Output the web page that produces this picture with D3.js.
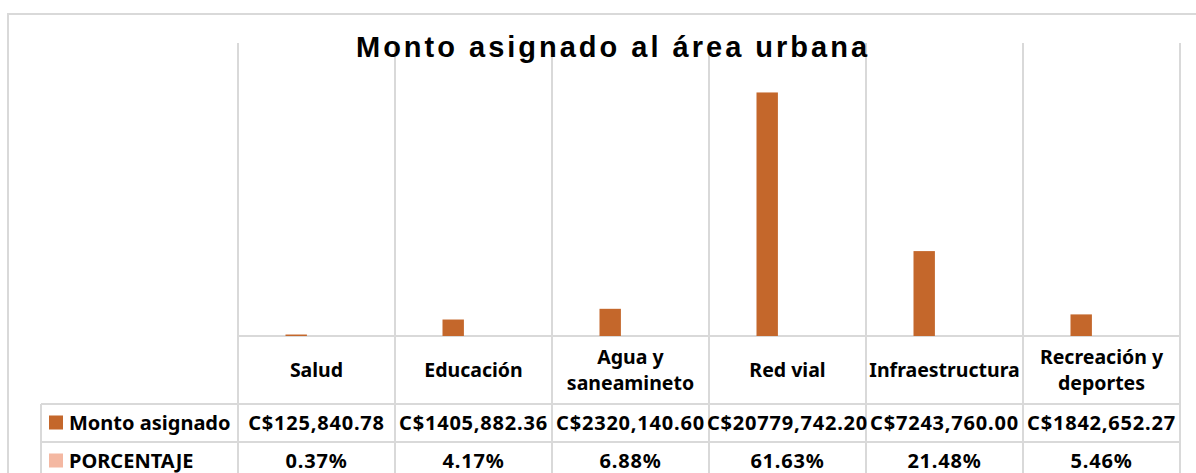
<!DOCTYPE html>
<head>
    <meta charset="utf-8">
    <title>Monto asignado al área urbana</title>
</head>
<style>
    body { margin: 0; background: #fff; }
    svg { display: block; }
    .grid { stroke: #d9d9d9; stroke-width: 2px; fill: none; }
    .cell { font-family: "Noto Sans", sans-serif; font-weight: bold; font-size: 20px; fill: #000; }
    .cat { font-size: 19.5px; }
    .num { letter-spacing: 0.8px; }
    .title { font-family: "Liberation Sans", Arial, sans-serif; font-weight: bold; font-size: 29px; letter-spacing: 3px; fill: #000; }
</style>
<body>
<script src="https://d3js.org/d3.v7.min.js"></script>
<script>
    var width = 1196,
        height = 473;

    // data
    var categories = ["Salud", "Educación", "Agua y\nsaneamineto", "Red vial", "Infraestructura", "Recreación y\ndeportes"];
    var seriesNames = ["Monto asignado", "PORCENTAJE"];
    var montoValues = [125840.78, 1405882.36, 2320140.60, 20779742.20, 7243760.00, 1842652.27];
    var montoLabels = ["C$125,840.78", "C$1405,882.36", "C$2320,140.60", "C$20779,742.20", "C$7243,760.00", "C$1842,652.27"];
    var porcentajeValues = [0.37, 4.17, 6.88, 61.63, 21.48, 5.46];
    var colors = ["#c4672b", "#f4b8a2"];

    var plotLeft = 238, plotRight = 1180, plotTop = 43, baseline = 336;
    var tableLeft = 41, rowLines = [336, 404, 442, 480];

    var svg = d3.select("body").append("svg")
        .attr("width", width)
        .attr("height", height);

    // chart border
    svg.append("rect")
        .attr("class", "grid")
        .attr("x", 8).attr("y", 14)
        .attr("width", 1210).attr("height", 500);

    var x0 = d3.scaleBand()
        .domain(categories)
        .range([plotLeft, plotRight]);
    var x1 = d3.scaleBand()
        .domain(seriesNames)
        .range([47.5, 90.3]);
    var y = d3.scaleLinear()
        .domain([0, 25000000])
        .range([baseline, plotTop]);

    // vertical grid lines / table columns
    var colEdges = categories.map(function (c) { return x0(c); }).concat([plotRight]);
    svg.selectAll("line.vcol")
        .data(colEdges)
        .enter().append("line")
        .attr("class", "grid vcol")
        .attr("x1", function (d) { return d; })
        .attr("x2", function (d) { return d; })
        .attr("y1", plotTop)
        .attr("y2", rowLines[3]);

    // table left edge
    svg.append("line")
        .attr("class", "grid")
        .attr("x1", tableLeft).attr("x2", tableLeft)
        .attr("y1", rowLines[1]).attr("y2", rowLines[3]);

    // horizontal table lines
    svg.selectAll("line.hrow")
        .data(rowLines)
        .enter().append("line")
        .attr("class", "grid hrow")
        .attr("x1", function (d, i) { return i === 0 ? plotLeft : tableLeft; })
        .attr("x2", plotRight)
        .attr("y1", function (d) { return d; })
        .attr("y2", function (d) { return d; });

    // bars
    var series = [montoValues, porcentajeValues.map(function (v) { return v / 100; })];
    series.forEach(function (vals, s) {
        svg.selectAll("rect.s" + s)
            .data(vals)
            .enter().append("rect")
            .attr("class", "s" + s)
            .attr("x", function (d, i) { return x0(categories[i]) + x1(seriesNames[s]); })
            .attr("width", x1.bandwidth())
            .attr("y", function (d) { return y(d); })
            .attr("height", function (d) { return baseline - y(d); })
            .attr("fill", colors[s]);
    });

    // title
    svg.append("text")
        .attr("class", "title")
        .attr("x", 613)
        .attr("y", 57)
        .attr("text-anchor", "middle")
        .text("Monto asignado al área urbana");

    // header row (category names)
    var header = svg.selectAll("text.cat")
        .data(categories)
        .enter().append("text")
        .attr("class", "cell cat")
        .attr("text-anchor", "middle");
    header.each(function (d) {
        var lines = d.split("\n");
        var cx = x0(d) + x0.bandwidth() / 2;
        var mid = (rowLines[0] + rowLines[1]) / 2;
        var lh = 26;
        d3.select(this).selectAll("tspan")
            .data(lines)
            .enter().append("tspan")
            .attr("x", cx)
            .attr("y", function (l, i) { return mid + 7 + (i - (lines.length - 1) / 2) * lh; })
            .text(function (l) { return l; });
    });

    // data rows
    var rows = [
        { name: seriesNames[0], color: colors[0], texts: montoLabels },
        { name: seriesNames[1], color: colors[1], texts: porcentajeValues.map(function (v) { return d3.format(".2f")(v) + "%"; }) }
    ];
    rows.forEach(function (r, ri) {
        var mid = (rowLines[ri + 1] + rowLines[ri + 2]) / 2;
        svg.append("rect")
            .attr("x", 49).attr("y", mid - 7.5)
            .attr("width", 14).attr("height", 14)
            .attr("fill", r.color);
        svg.append("text")
            .attr("class", "cell")
            .attr("x", 69).attr("y", mid + 7)
            .text(r.name);
        svg.selectAll("text.r" + ri)
            .data(r.texts)
            .enter().append("text")
            .attr("class", "cell num r" + ri)
            .attr("text-anchor", "middle")
            .attr("x", function (d, i) { return x0(categories[i]) + x0.bandwidth() / 2; })
            .attr("y", mid + 7)
            .text(function (d) { return d; });
    });
</script>
</body>
